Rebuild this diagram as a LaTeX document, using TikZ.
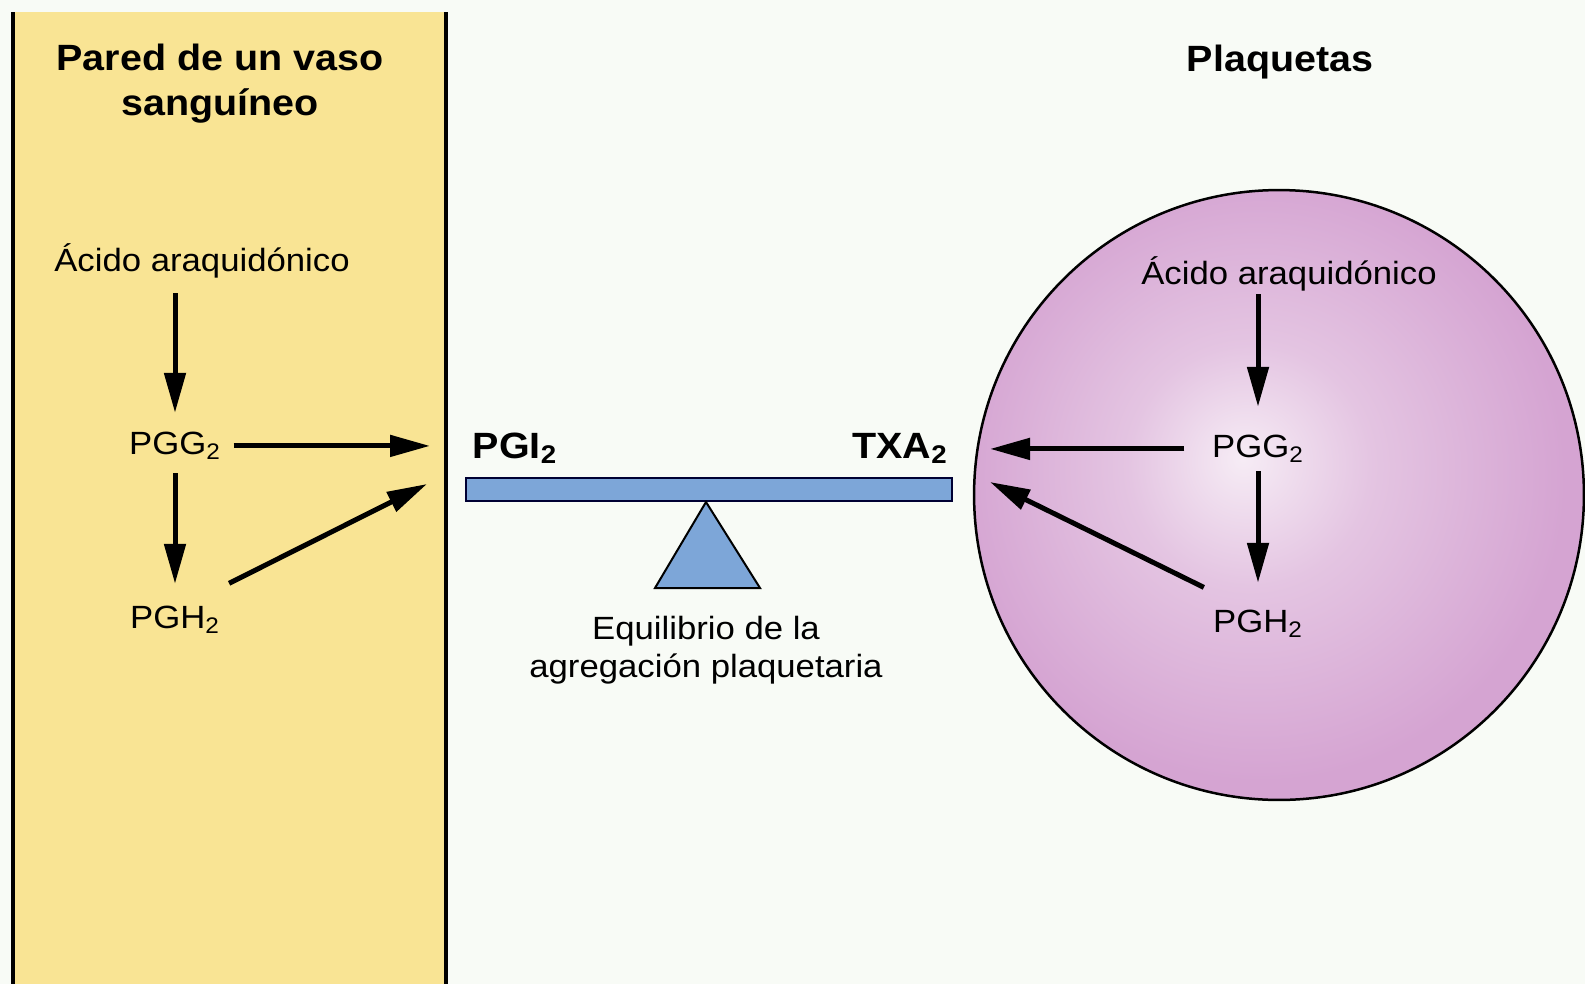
\documentclass[tikz,border=0pt]{standalone}
\usepackage{fontspec}
\setmainfont{Liberation Sans}[FakeStretch=1.08]
\usetikzlibrary{arrows.meta}
\definecolor{wall}{RGB}{249,228,148}
\definecolor{paper}{RGB}{248,251,246}
\definecolor{beamblue}{RGB}{125,166,216}
\definecolor{cellin}{RGB}{246,236,245}
\definecolor{cellout}{RGB}{213,164,210}
\pgfdeclareradialshading{cellglow}{\pgfpoint{-3bp}{3bp}}{color(0bp)=(cellin); color(10bp)=(cellin!45!cellout); color(25bp)=(cellout); color(50bp)=(cellout)}
\newcommand{\pg}[1]{PG#1\textsubscript{2}}
\tikzset{lab/.style={font=\fontsize{18.3}{22}\selectfont,inner sep=0pt,text height=13pt,text depth=3.8pt,anchor=base},
  hot/.style={font=\fontsize{20.8}{25}\selectfont\bfseries,inner sep=0pt,anchor=base},
  head/.style={font=\fontsize{20.8}{25.6}\selectfont\bfseries,align=center,inner sep=0pt},
  note/.style={font=\fontsize{18.3}{21.6}\selectfont,align=center,inner sep=0pt},
  flow/.style={line width=0.1cm,-{Triangle[length=0.8cm,width=0.42cm]}}}

\begin{document}
\begin{tikzpicture}[x=0.02cm,y=-0.02cm]
\useasboundingbox (0,0) rectangle (1585,984);
\fill[paper] (0,0) rectangle (1585,984);
\fill[wall] (13,12) rectangle (446,984);
\draw[line width=0.07cm] (13,12)--(13,984) (446,12)--(446,984);
\shadedraw[shading=cellglow,line width=0.05cm] (1279,495) circle (6.1cm);
\filldraw[fill=beamblue,draw=black!80!blue,line width=0.04cm] (466,478) rectangle (952,501);
\filldraw[fill=beamblue,draw=black,line width=0.04cm] (706,502)--(760,588)--(655,588)--cycle;
\foreach \n/\x/\y in {pgiA/430/448,pgiB/427/484,txaA/990/446,txaB/990/482}{\coordinate (\n) at (\x,\y);}
\node[head] (wall) at (220,84) {Pared de un vaso\\sanguíneo};
\node[head] (plaq) at (1280,62) {Plaquetas};
\node[lab] (aaL) at (202,271) {Ácido araquidónico};
\node[lab] (pggL) at (175,454) {\pg G};
\node[lab] (pghL) at (175,628) {\pg H};
\node[lab] (aaR) at (1289,284) {Ácido araquidónico};
\node[lab] (pggR) at (1258,457) {\pg G};
\node[lab] (pghR) at (1258,632) {\pg H};
\node[hot] (pgi) at (515,458) {PGI\textsubscript{2}};
\node[hot] (txa) at (900,458) {TXA\textsubscript{2}};
\node[note] (eq) at (706,650) {Equilibrio de la\\agregación plaquetaria};
\draw[flow,shorten <=0.3cm,shorten >=0.36cm] (aaL.south -| pggL.south) -- (pggL.north);
\draw[flow,shorten <=0.24cm,shorten >=0.42cm] (pggL.south) -- (pghL.north);
\draw[flow,shorten <=0.25cm] (pggL.east) -- (pgiA |- pggL.east);
\draw[flow,shorten <=0.2cm] ([yshift=0.34cm]pghL.north east) -- (pgiB);
\draw[flow,shorten <=0.06cm,shorten >=0.54cm] (aaR.south -| pggR.south) -- (pggR.north);
\draw[flow,shorten <=0.14cm,shorten >=0.52cm] (pggR.south) -- (pghR.north);
\draw[flow,shorten <=0.55cm] (pggR.west) -- (txaA |- pggR.west);
\draw[flow,shorten <=0.2cm] ([yshift=0.34cm]pghR.north west) -- (txaB);
\end{tikzpicture}
\end{document}
